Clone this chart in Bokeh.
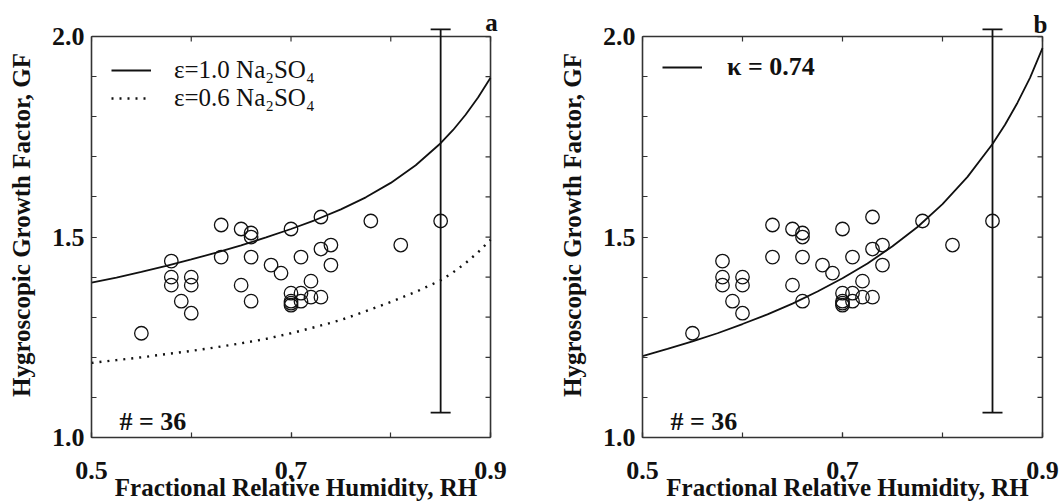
import math
from bokeh.plotting import figure
from bokeh.layouts import row
from bokeh.models import (ColumnDataSource, FixedTicker, PrintfTickFormatter, LinearAxis,
                          Whisker, TeeHead, Label, Legend, LegendItem, Range1d)
from bokeh.embed import file_html
from bokeh.resources import INLINE

# ---- data ----
rh = [0.55, 0.58, 0.58, 0.58, 0.59, 0.60, 0.60, 0.60, 0.63, 0.63, 0.65, 0.65,
      0.66, 0.66, 0.66, 0.66, 0.68, 0.69, 0.70, 0.70, 0.70, 0.70, 0.70, 0.71,
      0.71, 0.71, 0.72, 0.72, 0.73, 0.73, 0.73, 0.74, 0.74, 0.78, 0.81, 0.85]
gf = [1.26, 1.44, 1.40, 1.38, 1.34, 1.40, 1.38, 1.31, 1.53, 1.45, 1.52, 1.38,
      1.51, 1.50, 1.45, 1.34, 1.43, 1.41, 1.52, 1.36, 1.34, 1.335, 1.33, 1.45,
      1.36, 1.34, 1.39, 1.35, 1.55, 1.47, 1.35, 1.48, 1.43, 1.54, 1.48, 1.54]

curve_rh = [0.500, 0.525, 0.550, 0.575, 0.600, 0.625, 0.650, 0.675, 0.700,
            0.725, 0.750, 0.775, 0.800, 0.825, 0.850, 0.8625, 0.875, 0.8875, 0.900]
gf_eps10 = [1.386, 1.399, 1.413, 1.428, 1.444, 1.461, 1.479, 1.499, 1.520,
            1.543, 1.569, 1.599, 1.635, 1.679, 1.734, 1.767, 1.805, 1.848, 1.897]
gf_eps06 = [1.186, 1.193, 1.200, 1.208, 1.216, 1.225, 1.235, 1.246, 1.260,
            1.276, 1.293, 1.315, 1.338, 1.363, 1.392, 1.412, 1.435, 1.462, 1.493]
gf_kappa = [1.203, 1.221, 1.240, 1.260, 1.283, 1.307, 1.334, 1.364, 1.397,
            1.434, 1.477, 1.525, 1.582, 1.650, 1.732, 1.780, 1.835, 1.897, 1.971]

err_rh = [0.85]
err_lo = [1.062]
err_hi = [2.018]

X_LO, X_HI = 0.5, 0.9
Y_LO, Y_HI = 1.0, 2.0
x_major = [0.5, 0.7, 0.9]
x_minor = [0.5, 0.6, 0.7, 0.8, 0.9]
y_major = [1.0, 1.5, 2.0]
y_minor = [1.0, 1.1, 1.2, 1.3, 1.4, 1.5, 1.6, 1.7, 1.8, 1.9, 2.0]

legend_a = ["ε=1.0 Na₂SO₄", "ε=0.6 Na₂SO₄"]
legend_b = ["κ = 0.74"]
count_text = "# = 36"

FONT = "Liberation Serif"
INK = "#111111"
FRAME = "#333333"
TICK = 5


def style_axis(ax):
    ax.axis_line_width = 1.6
    ax.axis_line_color = FRAME
    ax.major_tick_in = TICK
    ax.major_tick_out = 0
    ax.minor_tick_in = TICK
    ax.minor_tick_out = 0
    ax.major_tick_line_color = FRAME
    ax.minor_tick_line_color = FRAME
    ax.major_tick_line_width = 1.2
    ax.minor_tick_line_width = 1.2
    ax.major_label_text_font = FONT
    ax.major_label_text_font_style = "bold"
    ax.major_label_text_font_size = "26px"
    ax.major_label_text_color = INK
    ax.axis_label_text_font = FONT
    ax.axis_label_text_font_style = "bold"
    ax.axis_label_text_font_size = "25px"
    ax.axis_label_text_color = INK


def make_panel(bl, br, letter, letter_dx, letter_dy):
    # the frame reaches a little beyond the drawn box so that the panel letter
    # and the error-bar cap above the box are not clipped
    p = figure(width=530, height=504,
               x_range=Range1d(X_LO, X_HI + 0.01), y_range=Range1d(Y_LO, Y_HI + 0.06),
               output_backend="svg", toolbar_location=None,
               x_axis_location=None, y_axis_location=None,
               min_border_left=bl, min_border_right=br, min_border_top=12, min_border_bottom=67)
    p.grid.visible = False
    p.outline_line_color = None
    p.background_fill_color = "white"
    p.border_fill_color = "white"

    xb = LinearAxis(ticker=FixedTicker(ticks=x_major, minor_ticks=x_minor),
                    formatter=PrintfTickFormatter(format="%.1f"),
                    axis_label="Fractional Relative Humidity, RH", bounds=(X_LO, X_HI))
    style_axis(xb)
    xb.major_label_standoff = 24
    xb.axis_label_standoff = -8
    p.add_layout(xb, "below")

    yl = LinearAxis(ticker=FixedTicker(ticks=y_major, minor_ticks=y_minor),
                    formatter=PrintfTickFormatter(format="%.1f"),
                    axis_label="Hygroscopic Growth Factor, GF", bounds=(Y_LO, Y_HI))
    style_axis(yl)
    yl.major_label_standoff = 7
    yl.axis_label_standoff = 14
    p.add_layout(yl, "left")

    # top and right sides of the box, with inward ticks
    p.segment(x0=[X_LO, X_HI], y0=[Y_HI, Y_LO], x1=[X_HI, X_HI], y1=[Y_HI, Y_HI],
              line_color=FRAME, line_width=1.6)
    p.ray(x=x_minor, y=[Y_HI] * len(x_minor), length=TICK, length_units="screen",
          angle=-math.pi / 2, line_color=FRAME, line_width=1.2)
    p.ray(x=[X_HI] * len(y_minor), y=y_minor, length=TICK, length_units="screen",
          angle=math.pi, line_color=FRAME, line_width=1.2)

    p.scatter(rh, gf, marker="circle", size=13.5, fill_color=None,
              line_color=INK, line_width=1.3)

    src = ColumnDataSource(dict(x=err_rh, lo=err_lo, hi=err_hi))
    w = Whisker(base="x", lower="lo", upper="hi", dimension="height", source=src,
                line_width=1.8, line_color=INK, level="overlay",
                upper_head=TeeHead(size=20, line_width=1.8, line_color=INK),
                lower_head=TeeHead(size=20, line_width=1.8, line_color=INK))
    p.add_layout(w)

    p.add_layout(Label(x=X_HI, y=Y_HI, text=letter, x_offset=letter_dx, y_offset=letter_dy,
                       text_align="center", text_baseline="alphabetic",
                       text_font=FONT, text_font_style="bold", text_font_size="25px",
                       text_color=INK))
    p.add_layout(Label(x=X_LO, y=Y_LO, text=count_text, x_offset=28, y_offset=16,
                       text_align="left", text_baseline="alphabetic",
                       text_font=FONT, text_font_style="bold", text_font_size="26px",
                       text_color=INK))
    return p


# ---- panel a ----
pa = make_panel(91, 30, "a", 1, 14)
ra1 = pa.line(curve_rh, gf_eps10, line_width=1.8, line_color=INK)
ra2 = pa.line(curve_rh, gf_eps06, line_width=2.4, line_color=INK, line_dash="2 6")
lega = Legend(items=[LegendItem(label=legend_a[0], renderers=[ra1]),
                     LegendItem(label=legend_a[1], renderers=[ra2])],
              location=(20, 325), margin=0, padding=0, spacing=-4,
              glyph_width=40, label_standoff=23,
              label_text_font=FONT, label_text_font_size="25px",
              label_text_color=INK, border_line_color=None,
              background_fill_alpha=0)
pa.add_layout(lega)

# ---- panel b ----
pb = make_panel(112, 8, "b", -2, 12)
rb1 = pb.line(curve_rh, gf_kappa, line_width=1.8, line_color=INK)
legb = Legend(items=[LegendItem(label=legend_b[0], renderers=[rb1])],
              location=(20, 355), margin=0, padding=0, spacing=0,
              glyph_width=40, label_standoff=25,
              label_text_font=FONT, label_text_font_size="26px", label_text_font_style="bold",
              label_text_color=INK, border_line_color=None,
              background_fill_alpha=0)
pb.add_layout(legb)

layout = row(pa, pb)
open("out.html", "w").write(file_html(layout, INLINE))
